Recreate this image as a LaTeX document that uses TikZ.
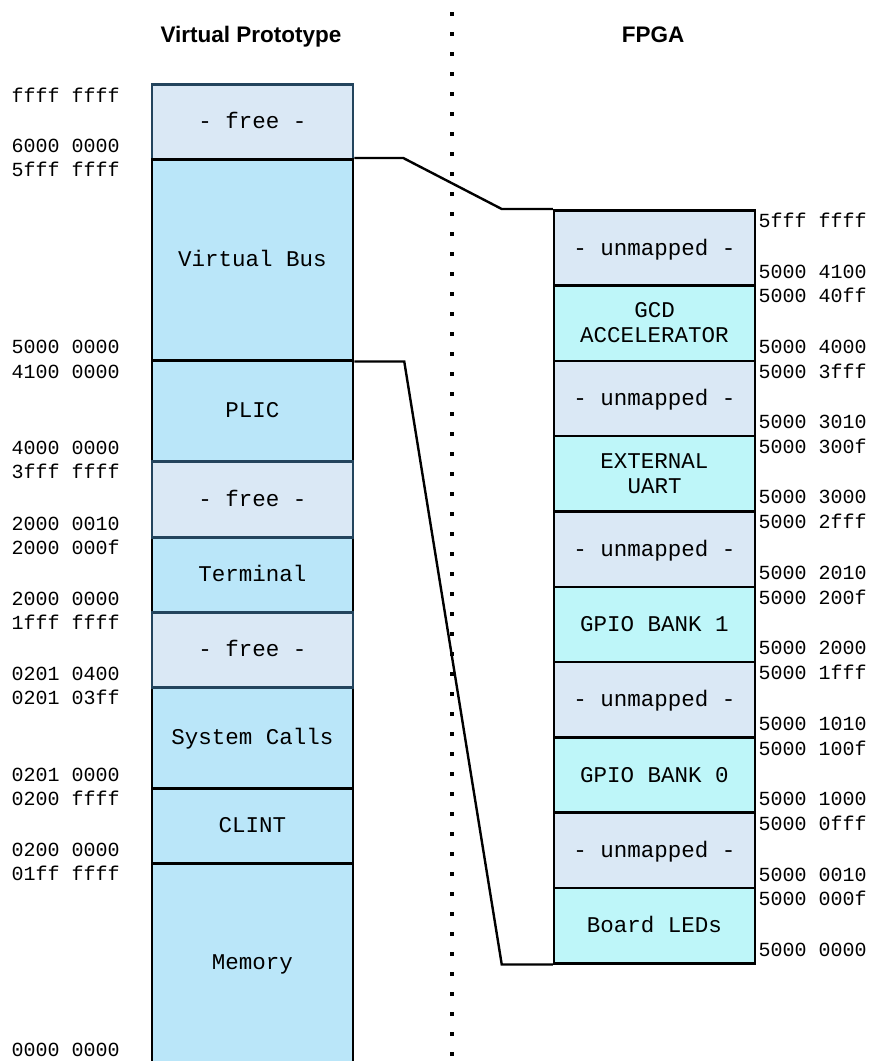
\documentclass[tikz,border=0pt]{standalone}
\usepackage{fontspec}
\setmainfont{Liberation Sans}
\newfontfamily\monof{Liberation Mono}
\usetikzlibrary{calc}

\definecolor{freefill}{HTML}{DAE8F5}
\definecolor{usedfill}{HTML}{BAE6F9}
\definecolor{fpgafill}{HTML}{BEF6F9}
\definecolor{darkedge}{HTML}{23445D}

\tikzset{
  boxtext/.style={font=\monof\fontsize{22.5}{25}\selectfont, align=center,
                  text height=14.2pt, text depth=0pt},
  twoline/.style={text height=39.2pt, text depth=0pt},
  region/.style={boxtext, line width=2.5pt, minimum width=201pt, inner sep=0pt,
                 anchor=north},
  freebox/.style={region, draw=darkedge, fill=freefill},
  usedbox/.style={region, draw=black, fill=usedfill},
  unmapbox/.style={region, draw=black, fill=freefill, minimum height=75.3pt},
  fpgabox/.style={region, draw=black, fill=fpgafill, minimum height=75.3pt},
  addr/.style={font=\monof\fontsize{20}{22}\selectfont, anchor=west,
               inner sep=0pt, text height=12.4pt, text depth=0pt},
  title/.style={font=\bfseries\fontsize{22.5}{25}\selectfont, anchor=base, inner sep=0pt},
  conn/.style={draw=black, line width=2.4pt, line join=miter},
  divider/.style={line width=4pt, dash pattern=on 4pt off 16pt, dash phase=8pt}
}

\begin{document}
\begin{tikzpicture}[x=1pt, y=-1pt]
\useasboundingbox (0,0) rectangle (869,1061);

% dotted separator between the two address spaces
\draw[divider] (452,0) -- (452,1075);

% column headings
\node[title] (tvp) at (251,42.7) {Virtual Prototype};
\node[title] (tfpga) at (653,42.7) {FPGA};

% virtual prototype memory map
\node[freebox, minimum height=75pt]  (free1) at (252.5,83)  {- free -};
\node[usedbox, minimum height=201pt] (vbus)  at (252.5,158) {Virtual Bus};
\node[usedbox, minimum height=101pt] (plic)  at (252.5,359) {PLIC};
\node[usedbox, minimum height=75pt]  (term)  at (252.5,536) {Terminal};
\node[usedbox, minimum height=101pt] (sysc)  at (252.5,686) {System Calls};
\node[usedbox, minimum height=75pt]  (clint) at (252.5,787) {CLINT};
\node[usedbox, minimum height=226pt] (mem)   at (252.5,862) {};
\node[boxtext, inner sep=0pt] (memtext) at (252.5,962) {Memory};
\node[freebox, minimum height=76pt]  (free2) at (252.5,460) {- free -};
\node[freebox, minimum height=75pt]  (free3) at (252.5,611) {- free -};

% FPGA memory map
\node[unmapbox] (r1)  at (654.5,209)   {- unmapped -};
\node[fpgabox, twoline] (r2)  at (654.5,284.3) {GCD\\ACCELERATOR};
\node[unmapbox] (r3)  at (654.5,359.6) {- unmapped -};
\node[fpgabox, twoline] (r4)  at (654.5,434.9) {EXTERNAL\\UART};
\node[unmapbox] (r5)  at (654.5,510.2) {- unmapped -};
\node[fpgabox]  (r6)  at (654.5,585.5) {GPIO BANK 1};
\node[unmapbox] (r7)  at (654.5,660.8) {- unmapped -};
\node[fpgabox]  (r8)  at (654.5,736.1) {GPIO BANK 0};
\node[unmapbox] (r9)  at (654.5,811.4) {- unmapped -};
\node[fpgabox]  (r10) at (654.5,886.7) {Board LEDs};

% address labels, virtual prototype
\foreach \t/\y [count=\i] in {
  ffff ffff/96, 6000 0000/146, 5fff ffff/170, 5000 0000/347, 4100 0000/372,
  4000 0000/448, 3fff ffff/472, 2000 0010/524, 2000 000f/548, 2000 0000/599,
  1fff ffff/623, 0201 0400/674, 0201 03ff/698, 0201 0000/775, 0200 ffff/799,
  0200 0000/850, 01ff ffff/874, 0000 0000/1050}
  \node[addr] (la\i) at (11.5,\y) {\t};

% address labels, FPGA
\foreach \t/\y [count=\i] in {
  5fff ffff/221, 5000 4100/272, 5000 40ff/296, 5000 4000/347, 5000 3fff/372,
  5000 3010/422, 5000 300f/447, 5000 3000/497, 5000 2fff/522, 5000 2010/573,
  5000 200f/598, 5000 2000/648, 5000 1fff/673, 5000 1010/724, 5000 100f/749,
  5000 1000/799, 5000 0fff/824, 5000 0010/875, 5000 000f/899, 5000 0000/950}
  \node[addr] (ra\i) at (758.5,\y) {\t};

% the virtual bus window onto the FPGA address range
\draw[conn] (vbus.north east) -- ++(49,0) -- ($(r1.north west)+(-51,0)$) -- (r1.north west);
\draw[conn] (vbus.south east) -- ++(50,0) -- ($(r10.south west)+(-51,0)$) -- (r10.south west);
\end{tikzpicture}
\end{document}
